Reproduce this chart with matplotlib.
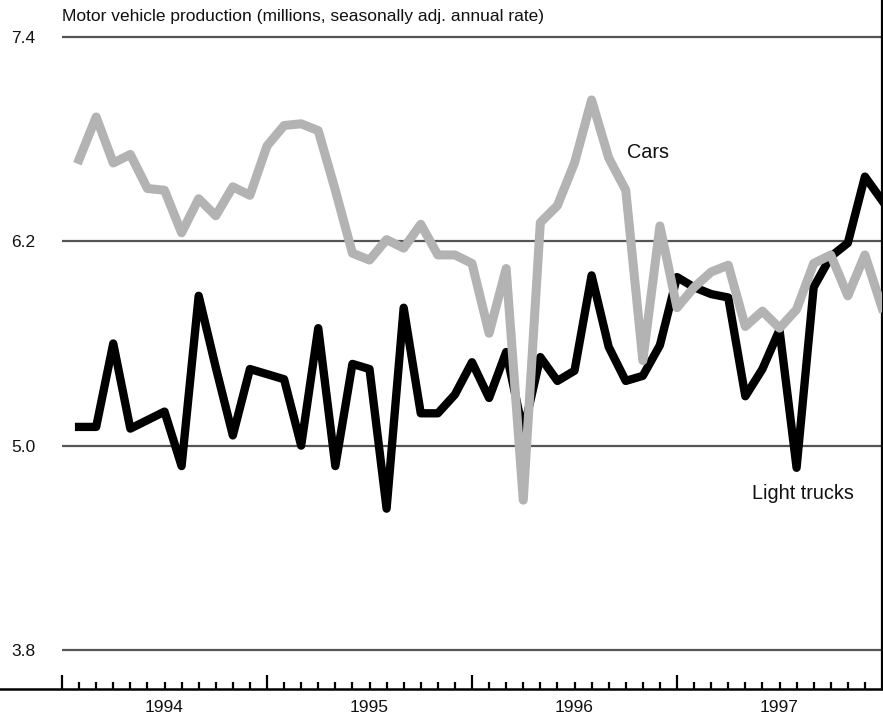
import matplotlib
matplotlib.use("Agg")
import matplotlib.pyplot as plt
from matplotlib.lines import Line2D
import matplotlib.transforms as mtransforms
import numpy as np

plt.rcParams['font.family'] = ['Liberation Sans', 'DejaVu Sans']

# Monthly data, Jan 1994 - Dec 1997 (millions, SAAR)
months = list(range(1, 49))
cars = [6.68, 6.93, 6.66, 6.71, 6.51, 6.50, 6.25, 6.45, 6.35, 6.52, 6.47, 6.76,
        6.88, 6.89, 6.85, 6.50, 6.13, 6.09, 6.21, 6.16, 6.30, 6.12, 6.12, 6.07,
        5.66, 6.04, 4.68, 6.31, 6.41, 6.66, 7.03, 6.69, 6.50, 5.50, 6.29, 5.81,
        5.93, 6.02, 6.06, 5.70, 5.79, 5.69, 5.80, 6.07, 6.12, 5.88, 6.12, 5.81]
trucks = [5.11, 5.11, 5.60, 5.10, 5.15, 5.20, 4.88, 5.88, 5.46, 5.06, 5.45, 5.42,
          5.39, 5.00, 5.69, 4.88, 5.48, 5.45, 4.63, 5.81, 5.19, 5.19, 5.30, 5.49,
          5.28, 5.55, 5.08, 5.52, 5.38, 5.44, 6.00, 5.58, 5.38, 5.41, 5.59, 5.99,
          5.93, 5.89, 5.87, 5.29, 5.45, 5.68, 4.87, 5.93, 6.11, 6.19, 6.58, 6.44]
yticks = [3.8, 5.0, 6.2, 7.4]
ytick_labels = ["3.8", "5.0", "6.2", "7.4"]
years = ["1994", "1995", "1996", "1997"]

W, H = 883, 717
fig = plt.figure(figsize=(W / 100, H / 100), dpi=100)
left, right = 62 / W, 882 / W
bottom = (H - 689) / H
ax = fig.add_axes([left, bottom, right - left, 1 - bottom])

ax.set_xlim(0, 48)
ax.set_ylim(3.571, 7.617)

for y in yticks:
    ax.axhline(y, color='#555555', lw=1.6, zorder=1)

ax.plot(months, trucks, color='black', lw=6.0, solid_joinstyle='round', zorder=3)
ax.plot(months, cars, color='#b3b3b3', lw=6.5, solid_joinstyle='round', zorder=4)

ax.set_yticks(yticks)
ax.set_yticklabels(ytick_labels, fontsize=12.5, color='#111111')
ax.tick_params(axis='y', length=0, pad=19)

ax.set_xticks([0, 12, 24, 36])
ax.set_xticks(range(0, 48), minor=True)
ax.set_xticklabels([])
ax.tick_params(axis='x', which='major', direction='in', length=10, width=1.6, color='black')
ax.tick_params(axis='x', which='minor', direction='in', length=5, width=1.6, color='black')

for s in ['left', 'top']:
    ax.spines[s].set_visible(False)
ax.spines['right'].set_linewidth(1.6)
ax.spines['bottom'].set_visible(False)
fig.add_artist(Line2D([0, right], [bottom, bottom], color='black', lw=1.8,
                      transform=fig.transFigure))

trans = mtransforms.blended_transform_factory(ax.transData, fig.transFigure)
for i, yr in enumerate(years):
    ax.text(6 + 12 * i, 1 - 708 / H, yr, transform=trans, ha='center', va='center',
            fontsize=12.5, color='#111111')

fig.text(left, 1 - 17 / H, "Motor vehicle production (millions, seasonally adj. annual rate)",
         ha='left', va='center', fontsize=12.5, color='#111111')

ax.text(33.05, 6.72, "Cars", ha='left', va='center', fontsize=14.3, color='#111111')
ax.text(40.4, 4.72, "Light trucks", ha='left', va='center', fontsize=14.3, color='#111111')

fig.savefig("out.png", dpi=100)
